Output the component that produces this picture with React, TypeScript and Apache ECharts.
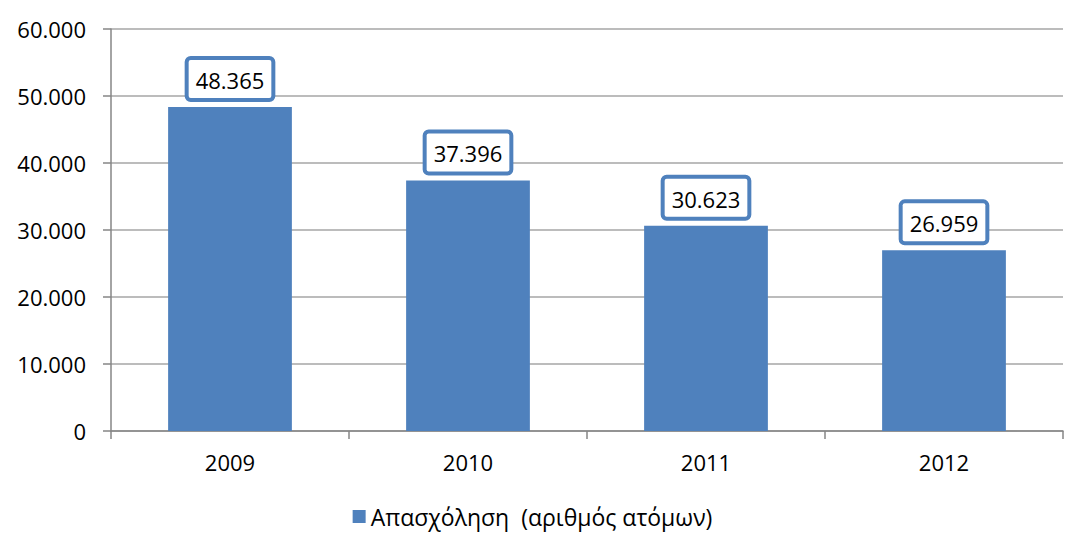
import React, { useEffect, useRef } from "react";
import * as echarts from "echarts";

const categories = ["2009", "2010", "2011", "2012"];
const employment = [48365, 37396, 30623, 26959];
const seriesName = "Απασχόληση  (αριθμός ατόμων)";
const yMax = 60000;
const yInterval = 10000;

const fmt = (v: number) => {
  if (v === 0) return "0";
  const s = Math.round(v).toString();
  return s.replace(/\B(?=(\d{3})+(?!\d))/g, ".");
};

export default function App() {
  const ref = useRef<HTMLDivElement>(null);
  useEffect(() => {
    if (!ref.current) return;
    const chart = echarts.init(ref.current, undefined, { renderer: "svg" });
    const font = "'Open Sans', sans-serif";
    chart.setOption({
      animation: false,
      textStyle: { fontFamily: font },
      grid: { left: 111, right: 2, top: 29, bottom: 103, containLabel: false },
      legend: {
        data: [seriesName],
        bottom: 1,
        left: "center",
        itemWidth: 13,
        itemHeight: 13,
        itemGap: 4,
        icon: "rect",
        textStyle: { fontFamily: font, fontSize: 23, color: "#000" },
      },
      xAxis: {
        type: "category",
        data: categories,
        axisLine: { lineStyle: { color: "#868686", width: 1.5 } },
        axisTick: { show: true, length: 8, lineStyle: { color: "#868686", width: 1.5 } },
        axisLabel: { margin: 20, fontSize: 22, color: "#000", fontFamily: font },
      },
      yAxis: {
        type: "value",
        min: 0,
        max: yMax,
        interval: yInterval,
        axisLine: { show: true, lineStyle: { color: "#868686", width: 1.5 } },
        axisTick: { show: true, length: 8, lineStyle: { color: "#868686", width: 1.5 } },
        splitLine: { lineStyle: { color: "#a6a6a6", width: 1.5 } },
        axisLabel: {
          margin: 25,
          fontSize: 22,
          color: "#000",
          fontFamily: font,
          formatter: (v: number) => fmt(v),
        },
      },
      series: [
        {
          name: seriesName,
          type: "bar",
          data: employment,
          barWidth: "52%",
          itemStyle: { color: "#4f81bd" },
          label: {
            show: true,
            position: "top",
            distance: 9,
            formatter: (p: any) => fmt(p.value),
            fontSize: 22,
            lineHeight: 24,
            fontFamily: font,
            color: "#000",
            backgroundColor: "#fff",
            borderColor: "#4f81bd",
            borderWidth: 4,
            borderRadius: 2,
            padding: [8, 7, 6, 7],
          },
        },
      ],
    });
    return () => chart.dispose();
  }, []);
  return <div ref={ref} style={{ width: 1065, height: 534, position: "absolute", left: 0, top: 0 }} />;
}
